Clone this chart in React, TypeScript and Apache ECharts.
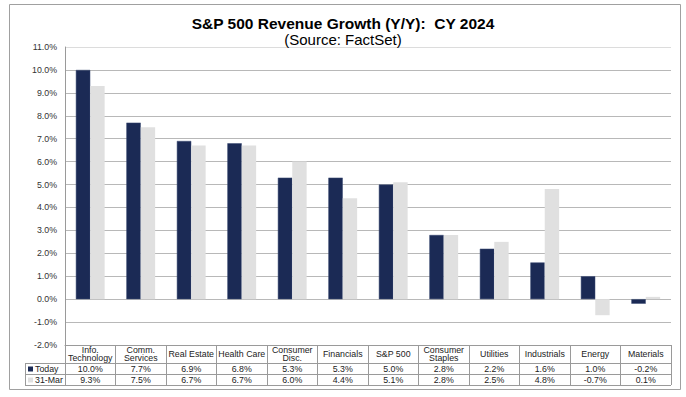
import React, { useEffect, useRef } from "react";
import * as echarts from "echarts";

const categories = [
  "Info.\nTechnology",
  "Comm.\nServices",
  "Real Estate",
  "Health Care",
  "Consumer\nDisc.",
  "Financials",
  "S&P 500",
  "Consumer\nStaples",
  "Utilities",
  "Industrials",
  "Energy",
  "Materials",
];
const today = [10.0, 7.7, 6.9, 6.8, 5.3, 5.3, 5.0, 2.8, 2.2, 1.6, 1.0, -0.2];
const mar31 = [9.3, 7.5, 6.7, 6.7, 6.0, 4.4, 5.1, 2.8, 2.5, 4.8, -0.7, 0.1];
const seriesNames = ["Today", "31-Mar"];
const colors = ["#1b2a55", "#e0e0e0"];

const FONT = "Liberation Sans, Arial, sans-serif";
const W = 686;
const H = 397;
const GRID = { left: 65, right: 15, top: 47, bottom: 52 };
const SMALL = 8.8;

export default function App() {
  const ref = useRef<HTMLDivElement>(null);
  useEffect(() => {
    if (!ref.current) return;
    document.body.style.margin = "0";
    const chart = echarts.init(ref.current, null, { renderer: "svg", width: W, height: H });
    const gridColors: string[] = [];
    for (let i = 0; i < 14; i++) gridColors.push(i === 13 ? "#dcdcdc" : "#b8b8b8");
    chart.setOption({
      animation: false,
      backgroundColor: "#ffffff",
      title: {
        text: "S&P 500 Revenue Growth (Y/Y):  CY 2024",
        subtext: "(Source: FactSet)",
        left: "center",
        top: 10,
        itemGap: 1,
        textStyle: { fontFamily: FONT, fontSize: 15.5, fontWeight: "bold", color: "#000" },
        subtextStyle: { fontFamily: FONT, fontSize: 15, color: "#000" },
      },
      grid: { ...GRID, containLabel: false },
      xAxis: {
        type: "category",
        data: categories,
        position: "bottom",
        axisLine: { show: true, onZero: false, lineStyle: { color: "#9a9a9a", width: 1 } },
        axisTick: { show: true, length: 40, alignWithLabel: false, lineStyle: { color: "#9a9a9a" } },
        axisLabel: {
          interval: 0,
          margin: 9,
          verticalAlign: "middle",
          fontFamily: FONT,
          fontSize: SMALL,
          lineHeight: 8.5,
          color: "#222",
        },
        splitLine: { show: false },
      },
      yAxis: {
        type: "value",
        min: -2,
        max: 11,
        interval: 1,
        axisLine: { show: true, lineStyle: { color: "#9a9a9a" } },
        axisTick: { show: false },
        axisLabel: {
          margin: 8,
          fontFamily: FONT,
          fontSize: SMALL,
          color: "#333",
          formatter: (v: number) => v.toFixed(1) + "%",
        },
        splitLine: { show: true, lineStyle: { color: gridColors, width: 1 } },
      },
      series: [
        {
          name: seriesNames[0],
          type: "bar",
          data: today,
          barGap: "0%",
          barCategoryGap: "43%",
          itemStyle: { color: colors[0], borderColor: "#3a4a72", borderWidth: 0.5 },
        },
        {
          name: seriesNames[1],
          type: "bar",
          data: mar31,
          itemStyle: { color: colors[1] },
        },
      ],
    });

    // Build the data table below the plot from the axis scale
    const axisY = H - GRID.bottom;
    const row1 = axisY + 18;
    const row2 = row1 + 11;
    const row3 = row2 + 11;
    const tableLeft = 25;
    const tableRight = W - GRID.right;
    const lineStyle = { stroke: "#9a9a9a", lineWidth: 1 };
    const elements: any[] = [];
    [row1, row2, row3].forEach((y) => {
      elements.push({
        type: "line",
        shape: { x1: tableLeft, y1: y + 0.5, x2: tableRight, y2: y + 0.5 },
        style: lineStyle,
        silent: true,
      });
    });
    elements.push({
      type: "line",
      shape: { x1: tableLeft + 0.5, y1: row1, x2: tableLeft + 0.5, y2: row3 },
      style: lineStyle,
      silent: true,
    });
    const rows = [today, mar31];
    rows.forEach((vals, r) => {
      const yMid = (r === 0 ? row1 : row2) + 6;
      elements.push({
        type: "rect",
        shape: { x: tableLeft + 3, y: yMid - 2.5, width: 5, height: 5 },
        style: { fill: colors[r] },
        silent: true,
      });
      elements.push({
        type: "text",
        x: tableLeft + 10,
        y: yMid,
        style: {
          text: seriesNames[r],
          fontFamily: FONT,
          fontSize: SMALL,
          fill: "#222",
          verticalAlign: "middle",
          align: "left",
        },
        silent: true,
      });
      vals.forEach((v, i) => {
        const px = chart.convertToPixel({ xAxisIndex: 0 }, i) as number;
        elements.push({
          type: "text",
          x: px,
          y: yMid,
          style: {
            text: v.toFixed(1) + "%",
            fontFamily: FONT,
            fontSize: SMALL,
            fill: "#222",
            align: "center",
            verticalAlign: "middle",
          },
          silent: true,
        });
      });
    });
    // Outer frame
    elements.push({
      type: "rect",
      shape: { x: 9.5, y: 4.5, width: 671, height: 385 },
      style: { fill: "none", stroke: "#a0a0a0", lineWidth: 1 },
      silent: true,
    });
    chart.setOption({ graphic: elements });

    return () => chart.dispose();
  }, []);
  return <div ref={ref} style={{ width: W, height: H }} />;
}
